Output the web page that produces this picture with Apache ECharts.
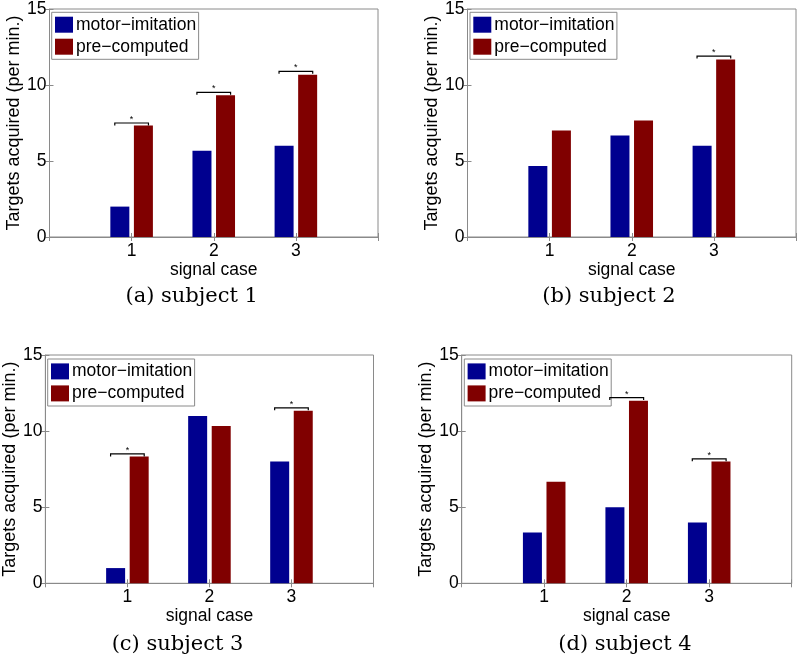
<!DOCTYPE html>
<html><head><meta charset="utf-8">
<script src="https://cdn.jsdelivr.net/npm/echarts@6/dist/echarts.min.js"></script>
<style>html,body{margin:0;padding:0;background:#fff}#c{width:800px;height:660px}</style>
</head><body><div id="c"></div>
<script>
// ---- data ----
const seriesNames = ['motor\u2212imitation', 'pre\u2212computed'];
const signalCases = [1, 2, 3];
const yTicks = [0, 5, 10, 15];
const xLabel = 'signal case';
const yLabel = 'Targets acquired (per min.)';
const captions = ['(a) subject 1', '(b) subject 2', '(c) subject 3', '(d) subject 4'];

const motorS1 = [2.0, 5.67, 6.0];
const preS1   = [7.33, 9.33, 10.67];
const motorS2 = [4.67, 6.67, 6.0];
const preS2   = [7.0, 7.67, 11.67];
const motorS3 = [1.0, 11.0, 8.0];
const preS3   = [8.33, 10.33, 11.33];
const motorS4 = [3.33, 5.0, 4.0];
const preS4   = [6.67, 12.0, 8.0];

// significance brackets: [signal case, height]
const sigS1 = [[1, 7.5], [2, 9.52], [3, 10.9]];
const sigS2 = [[3, 11.9]];
const sigS3 = [[1, 8.5], [3, 11.53]];
const sigS4 = [[2, 12.2], [3, 8.18]];

const motor = [motorS1, motorS2, motorS3, motorS4];
const pre = [preS1, preS2, preS3, preS4];
const sig = [sigS1, sigS2, sigS3, sigS4];

// ---- layout ----
const grids = [
  {left: 49.5, top: 9, width: 328.5, height: 228},
  {left: 467.5, top: 9, width: 328.5, height: 228},
  {left: 44.5, top: 355, width: 329, height: 228.3},
  {left: 461.7, top: 355, width: 330, height: 228.3}
];
const legendPos = [
  {left: 51.7, top: 12.3},
  {left: 470, top: 12.3},
  {left: 47.7, top: 359},
  {left: 464.3, top: 359}
];
const captionPos = [[191.7, 297], [609, 297], [177.5, 645], [625, 645]];

const FONT = 'Liberation Sans, Arial, Helvetica, sans-serif';
const BLUE = '#00008f';
const RED = '#800000';
const FRAME = '#8a8a8a';

const option = {
  animation: false,
  backgroundColor: '#fff',
  grid: [], xAxis: [], yAxis: [], series: [], legend: [], graphic: []
};

const yMin = yTicks[0], yMax = yTicks[yTicks.length - 1], yStep = yTicks[1] - yTicks[0];
const xMin = signalCases[0] - 1, xMax = signalCases[signalCases.length - 1] + 1;

grids.forEach((g, i) => {
  option.grid.push(Object.assign({show: true, borderColor: FRAME, borderWidth: 1, backgroundColor: '#fff'}, g));
  // bottom x axis
  option.xAxis.push({
    type: 'value', gridIndex: i, min: xMin, max: xMax, interval: 1, position: 'bottom',
    name: xLabel, nameLocation: 'middle', nameGap: 22,
    nameTextStyle: {fontFamily: FONT, fontSize: 17.5, color: '#000'},
    axisLine: {show: true, lineStyle: {color: FRAME}},
    axisTick: {show: true, inside: true, length: 4, lineStyle: {color: FRAME}},
    axisLabel: {show: true, fontFamily: FONT, fontSize: 17.5, color: '#000', margin: 5,
      formatter: v => signalCases.indexOf(v) >= 0 ? String(v) : ''},
    splitLine: {show: false}
  });
  // top x axis (ticks only)
  option.xAxis.push({
    type: 'value', gridIndex: i, min: xMin, max: xMax, interval: 1, position: 'top',
    axisLine: {show: false},
    axisTick: {show: true, inside: true, length: 4, lineStyle: {color: FRAME}},
    axisLabel: {show: false}, splitLine: {show: false}
  });
  // left y axis
  option.yAxis.push({
    type: 'value', gridIndex: i, min: yMin, max: yMax, interval: yStep, position: 'left',
    name: yLabel, nameLocation: 'middle', nameGap: 24,
    nameTextStyle: {fontFamily: FONT, fontSize: 18, color: '#000'},
    axisLine: {show: true, lineStyle: {color: FRAME}},
    axisTick: {show: true, inside: true, length: 4, lineStyle: {color: FRAME}},
    axisLabel: {show: true, fontFamily: FONT, fontSize: 17.5, color: '#000', margin: 3},
    splitLine: {show: false}
  });
  // right y axis (ticks only)
  option.yAxis.push({
    type: 'value', gridIndex: i, min: yMin, max: yMax, interval: yStep, position: 'right',
    axisLine: {show: false},
    axisTick: {show: true, inside: true, length: 4, lineStyle: {color: FRAME}},
    axisLabel: {show: false}, splitLine: {show: false}
  });

  const xi = i * 2, yi = i * 2;
  option.series.push({
    type: 'bar', name: seriesNames[0], xAxisIndex: xi, yAxisIndex: yi,
    barWidth: 19, barGap: '24%',
    itemStyle: {color: BLUE},
    data: signalCases.map((c, k) => [c, motor[i][k]])
  });
  option.series.push({
    type: 'bar', name: seriesNames[1], xAxisIndex: xi, yAxisIndex: yi,
    barWidth: 19, barGap: '24%',
    itemStyle: {color: RED},
    data: signalCases.map((c, k) => [c, pre[i][k]])
  });
  option.series.push({
    type: 'custom', name: 'sig' + i, xAxisIndex: xi, yAxisIndex: yi, z: 5,
    data: sig[i],
    renderItem: function (params, api) {
      const p = api.coord([api.value(0), api.value(1)]);
      const band = api.size([1, 0])[0];
      const hw = band * 0.205;
      return {
        type: 'group',
        children: [
          {type: 'polyline', shape: {points: [[p[0] - hw, p[1] + 2.5], [p[0] - hw, p[1]], [p[0] + hw, p[1]], [p[0] + hw, p[1] + 2.5]]},
           style: {stroke: '#000', lineWidth: 1.2, fill: null}},
          {type: 'text', style: {text: '*', x: p[0], y: p[1] + 1, align: 'center', verticalAlign: 'bottom',
           font: '9px ' + FONT, fill: '#000'}}
        ]
      };
    }
  });

  option.legend.push({
    orient: 'vertical', left: legendPos[i].left, top: legendPos[i].top,
    data: seriesNames.map(n => ({name: n, icon: 'rect'})),
    itemWidth: 18, itemHeight: 16, itemGap: 4,
    padding: [3.4, 2.5, 3.6, 3.3],
    backgroundColor: '#fff', borderColor: FRAME, borderWidth: 1,
    selectedMode: false,
    textStyle: {fontFamily: FONT, fontSize: 17.5, color: '#000', padding: [0, 0, 0, -2]}
  });

  option.graphic.push({
    type: 'text', x: captionPos[i][0], y: captionPos[i][1],
    style: {text: captions[i], align: 'center', verticalAlign: 'middle',
      font: '21px "DejaVu Serif", serif', fill: '#000'}
  });
});

const chart = echarts.init(document.getElementById('c'), null, {renderer: 'canvas'});
chart.setOption(option);
</script>
</body></html>
